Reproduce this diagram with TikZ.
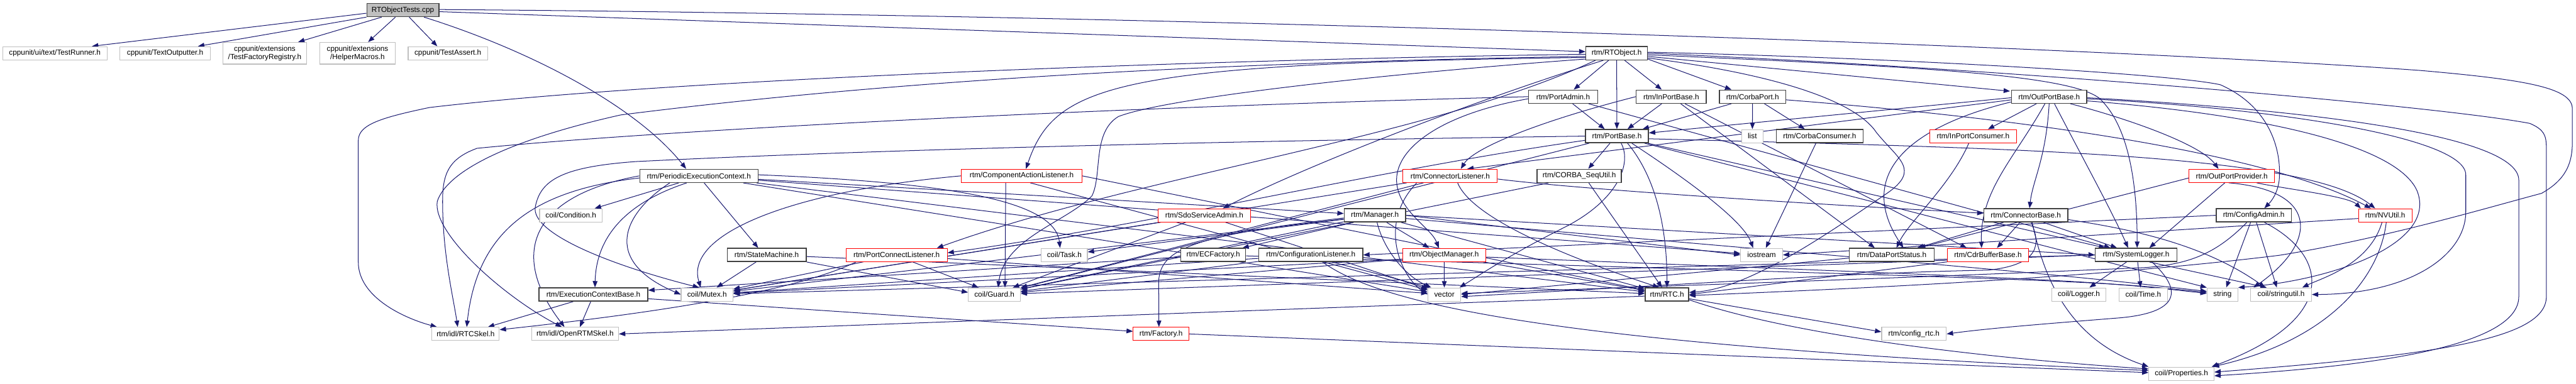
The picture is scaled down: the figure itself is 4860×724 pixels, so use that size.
\documentclass[tikz,border=0pt]{standalone}
\usepackage{fontspec}
\setmainfont{Liberation Sans}
\usepackage{tikz}
\usetikzlibrary{arrows.meta,backgrounds}
\definecolor{midnight}{HTML}{191970}
\definecolor{bk75}{HTML}{404040}
\definecolor{bk25}{HTML}{BFBFBF}
\tikzset{
  filebox/.style={
    rectangle, draw=#1, fill=white, line width=1.7pt,
    minimum height=25pt, inner sep=0pt,
    font=\fontsize{14}{15}\selectfont, align=center
  },
  filebox/.default=bk75,
  sysbox/.style={filebox=bk25, line width=1.3pt},
  cutbox/.style={filebox=red, line width=1.2pt},
  rootbox/.style={filebox=bk75, fill=bk25},
  incl/.style={
    -{Triangle[length=12pt, width=9pt]}, line width=1.2pt, color=midnight
  },
}
\begin{document}
\begin{tikzpicture}[x=1pt, y=-1pt]
  \useasboundingbox (0,0) rectangle (4860,724);

  % Root
  \node[rootbox, minimum width=136pt] (root) at (760,19) {RTObjectTests.cpp};

  % Row 1
  \node[sysbox, minimum width=197pt] (trun) at (103.5,100.5) {cppunit/ui/text/TestRunner.h};
  \node[sysbox, minimum width=171pt] (tout) at (311.5,100.5) {cppunit/TextOutputter.h};
  \node[sysbox, minimum width=157pt, minimum height=41pt] (tfac) at (499.5,100.5) {cppunit/extensions\\/TestFactoryRegistry.h};
  \node[sysbox, minimum width=143pt, minimum height=41pt] (tmac) at (674.5,100.5) {cppunit/extensions\\/HelperMacros.h};
  \node[sysbox, minimum width=150pt] (tass) at (845,100.5) {cppunit/TestAssert.h};
  \node[filebox, minimum width=116pt] (rtobj) at (3050,100.5) {rtm/RTObject.h};

  % Row 2
  \node[filebox, minimum width=130pt] (padm) at (2949,182.5) {rtm/PortAdmin.h};
  \node[filebox, minimum width=132pt] (inpb) at (3153,182.5) {rtm/InPortBase.h};
  \node[filebox, minimum width=125pt] (cport) at (3306.5,182.5) {rtm/CorbaPort.h};
  \node[filebox, minimum width=142pt] (outpb) at (3866,182.5) {rtm/OutPortBase.h};

  % Row 3
  \node[filebox, minimum width=119pt] (pbase) at (3050.5,257) {rtm/PortBase.h};
  \node[sysbox, minimum width=40pt] (list) at (3306,257) {list};
  \node[filebox, minimum width=164pt] (ccons) at (3433,257) {rtm/CorbaConsumer.h};
  \node[cutbox, minimum width=163pt] (incons) at (3722.5,257) {rtm/InPortConsumer.h};

  % Row 4
  \node[filebox, minimum width=223pt] (pec) at (1318.5,332) {rtm/PeriodicExecutionContext.h};
  \node[cutbox, minimum width=227pt] (cal) at (1927.5,332) {rtm/ComponentActionListener.h};
  \node[cutbox, minimum width=178pt] (clis) at (2736,332) {rtm/ConnectorListener.h};
  \node[filebox, minimum width=159pt] (cseq) at (2979.5,332) {rtm/CORBA\_SeqUtil.h};
  \node[cutbox, minimum width=161pt] (oprov) at (4210.5,332) {rtm/OutPortProvider.h};

  % Row 5
  \node[sysbox, minimum width=118pt] (cond) at (1077,406.5) {coil/Condition.h};
  \node[cutbox, minimum width=174pt] (sdo) at (2272,406.5) {rtm/SdoServiceAdmin.h};
  \node[filebox, minimum width=116pt] (mgr) at (2594,406.5) {rtm/Manager.h};
  \node[filebox, minimum width=158pt] (cbase) at (3822,406.5) {rtm/ConnectorBase.h};
  \node[filebox, minimum width=142pt] (cadm) at (4252,406.5) {rtm/ConfigAdmin.h};
  \node[cutbox, minimum width=101pt] (nvu) at (4500,406.5) {rtm/NVUtil.h};

  % Row 6
  \node[filebox, minimum width=149pt] (sm) at (1446.5,481.3) {rtm/StateMachine.h};
  \node[cutbox, minimum width=191pt] (pcl) at (1691.5,481.3) {rtm/PortConnectListener.h};
  \node[sysbox, minimum width=87pt] (task) at (2008,481.3) {coil/Task.h};
  \node[filebox, minimum width=122pt] (ecf) at (2289,481.3) {rtm/ECFactory.h};
  \node[filebox, minimum width=196pt] (cfl) at (2473,481.3) {rtm/ConfigurationListener.h};
  \node[cutbox, minimum width=157pt] (om) at (2724.5,481.3) {rtm/ObjectManager.h};
  \node[sysbox, minimum width=79pt] (ios) at (3323.5,481.3) {iostream};
  \node[filebox, minimum width=160pt] (dps) at (3569,481.3) {rtm/DataPortStatus.h};
  \node[cutbox, minimum width=153pt] (cdr) at (3750.5,481.3) {rtm/CdrBufferBase.h};
  \node[filebox, minimum width=154pt] (slog) at (4030,481.3) {rtm/SystemLogger.h};

  % Row 7
  \node[filebox, minimum width=205pt] (ecb) at (1119.5,556) {rtm/ExecutionContextBase.h};
  \node[sysbox, minimum width=98pt] (mutex) at (1334,556) {coil/Mutex.h};
  \node[sysbox, minimum width=98pt] (guard) at (1876,556) {coil/Guard.h};
  \node[sysbox, minimum width=62pt] (vec) at (2725,556) {vector};
  \node[filebox, minimum width=82pt] (rtc) at (3145,556) {rtm/RTC.h};
  \node[sysbox, minimum width=103pt] (logger) at (3922,556) {coil/Logger.h};
  \node[sysbox, minimum width=91pt] (time) at (4043.5,556) {coil/Time.h};
  \node[sysbox, minimum width=58pt] (str) at (4193,556) {string};
  \node[sysbox, minimum width=115pt] (sutil) at (4303.5,556) {coil/stringutil.h};

  % Row 8
  \node[sysbox, minimum width=127pt] (rtcskel) at (878.5,630.5) {rtm/idl/RTCSkel.h};
  \node[sysbox, minimum width=164pt] (ortmskel) at (1085,630.5) {rtm/idl/OpenRTMSkel.h};
  \node[cutbox, minimum width=105pt] (fact) at (2190.5,630.5) {rtm/Factory.h};
  \node[sysbox, minimum width=122pt] (cfgrtc) at (3611,630.5) {rtm/config\_rtc.h};

  % Row 9
  \node[sysbox, minimum width=123pt] (props) at (4115.5,705.5) {coil/Properties.h};

  \begin{scope}[on background layer]
    % RTObjectTests.cpp
    \draw[incl] ([yshift=-6pt]root.west) -- ([xshift=70pt]trun.north);
    \draw[incl] (root.south west) -- ([xshift=62pt]tout.north);
    \draw[incl] ([xshift=-40pt]root.south) -- ([xshift=63pt]tfac.north);
    \draw[incl] ([xshift=-14pt]root.south) -- ([xshift=20pt]tmac.north);
    \draw[incl] ([xshift=12pt]root.south) -- ([xshift=-20pt]tass.north);
    \draw[incl] ([xshift=40pt]root.south) .. controls (1000,95) and (1200,200) .. ([xshift=-24pt]pec.north);
    \draw[incl] ([yshift=-3pt]root.east) -- ([yshift=3pt]rtobj.west);
    \draw[incl] ([yshift=1pt]root.east) .. controls (2200,28) and (3900,85) .. (4566,133)
      .. controls (4760,150) and (4853,165) .. (4853,205) -- (4853,270)
      .. controls (4853,320) and (4830,345) .. (4795,365)
      .. controls (4700,390) and (4500,450) .. (4300,482)
      .. controls (3950,525) and (3500,545) .. ([yshift=-2pt]rtc.east);

    % RTObject.h
    \draw[incl] ([xshift=-15pt]rtobj.south) -- ([xshift=20pt]padm.north);
    \draw[incl] (rtobj) -- (pbase);
    \draw[incl] ([xshift=15pt]rtobj.south) -- ([xshift=-18pt]inpb.north);
    \draw[incl] ([yshift=-11pt]rtobj.east) -- ([xshift=-40pt]cport.north);
    \draw[incl] ([yshift=-6pt]rtobj.east) -- ([xshift=-2pt,yshift=-3pt]outpb.north west);
    \draw[incl] ([yshift=-2pt]rtobj.west) .. controls (2400,110) and (1300,145) .. (810,203)
      .. controls (720,222) and (676,235) .. (676,265) -- (676,495)
      .. controls (676,560) and (760,600) .. ([xshift=10pt]rtcskel.north west);
    \draw[incl] ([yshift=-6pt]rtobj.west) .. controls (2300,118) and (1700,150) .. (1171,217)
      .. controls (970,262) and (845,320) .. (825,380)
      .. controls (815,440) and (950,560) .. ([xshift=-25pt]ortmskel.north);
    \draw[incl] ([yshift=-8pt]rtobj.west) .. controls (2100,120) and (1990,160) .. ([xshift=8pt]cal.north);
    \draw[incl] ([yshift=-11pt]rtobj.west) .. controls (2600,140) and (2200,185) .. (2110,220)
      .. controls (2060,250) and (2080,330) .. (2060,370)
      .. controls (2010,420) and (1895,450) .. ([xshift=7pt]guard.north);
    \draw[incl] ([xshift=-25pt]rtobj.south) .. controls (2750,200) and (2450,320) .. ([xshift=35pt]sdo.north);
    \draw[incl] ([xshift=-40pt]rtobj.south) .. controls (2700,260) and (2150,330) .. ([xshift=-20pt]pcl.north east);
    \draw[incl] ([yshift=2pt]rtobj.east) .. controls (3600,110) and (4100,140) .. (4189,160)
      .. controls (4280,200) and (4305,280) .. (4300,340)
      .. controls (4297,365) and (4285,380) .. ([xshift=20pt]cadm.north);
    \draw[incl] (rtobj.east) .. controls (3800,130) and (4600,200) .. (4773,233)
      .. controls (4800,245) and (4804,255) .. (4804,280) -- (4804,560)
      .. controls (4804,640) and (4600,670) .. ([yshift=3pt]props.east);
    \draw[incl] ([yshift=-3pt]rtobj.east) .. controls (3600,125) and (3900,140) .. (3960,185)
      .. controls (4020,240) and (4032,360) .. ([xshift=2pt]slog.north);
    \draw[incl] ([yshift=-9pt]rtobj.east) .. controls (3350,140) and (3500,190) .. (3540,250)
      .. controls (3580,300) and (3625,320) .. (3560,365)
      .. controls (3450,440) and (3300,545) .. ([yshift=4pt]rtc.east);

    % PortAdmin.h
    \draw[incl] ([xshift=18pt]padm.south) -- ([xshift=-23pt]pbase.north);
    \draw[incl] ([yshift=-4pt]padm.west) .. controls (2720,215) and (2630,280) .. (2635,345)
      .. controls (2640,400) and (2700,430) .. ([xshift=-10pt]om.north);
    \draw[incl] (padm.west) .. controls (2000,205) and (1200,250) .. (900,280)
      .. controls (845,300) and (835,330) .. (835,380)
      .. controls (835,480) and (855,560) .. ([xshift=-15pt]rtcskel.north);
    \draw[incl] (padm) -- (slog);

    % InPortBase.h
    \draw[incl] ([xshift=-18pt]inpb.south) -- ([xshift=20pt]pbase.north);
    \draw[incl] (inpb.west) .. controls (2900,230) and (2780,280) .. ([xshift=20pt]clis.north);
    \draw[incl] (inpb) -- ([xshift=-32pt]dps.north);
    \draw[incl] (inpb) -- ([xshift=-40pt]cdr.north);

    % CorbaPort.h
    \draw[incl] ([xshift=-40pt]cport.south) -- ([xshift=-12pt]pbase.north east);
    \draw[incl] (cport) -- (list);
    \draw[incl] ([xshift=-41pt]cport.south east) -- ([xshift=-28pt]ccons.north);
    \draw[incl] ([yshift=-6pt]cport.east) .. controls (3900,230) and (4300,300) .. ([xshift=-27pt]nvu.north);
    \draw[incl] ([xshift=-7pt]ccons.south) -- ([xshift=8pt]ios.north);

    % OutPortBase.h
    \draw[incl] ([yshift=-2pt]outpb.west) -- ([yshift=6pt]pbase.east);
    \draw[incl] ([yshift=-6pt]outpb.west) -- ([xshift=32pt]clis.north);
    \draw[incl] ([xshift=-24pt]outpb.south) -- ([xshift=28pt]incons.north);
    \draw[incl] ([xshift=40pt]outpb.south) .. controls (4000,220) and (4150,270) .. ([xshift=-25pt]oprov.north);
    \draw[incl] (outpb.south) .. controls (3860,300) and (3835,340) .. ([xshift=7pt]cbase.north);
    \draw[incl] ([yshift=-10pt]outpb.west) .. controls (3600,240) and (3500,330) .. ([xshift=22pt]dps.north);
    \draw[incl] ([xshift=-8pt]outpb.south) .. controls (3800,300) and (3735,360) .. ([xshift=-12pt]cdr.north);
    \draw[incl] ([xshift=10pt]outpb.south) .. controls (3930,300) and (3985,400) .. ([xshift=-15pt]slog.north);
    \draw[incl] ([yshift=-4pt]outpb.east) .. controls (4300,205) and (4652,260) .. (4652,330) -- (4652,400)
      .. controls (4652,480) and (4550,555) .. (sutil.east);
    \draw[incl] ([yshift=-2pt]outpb.east) .. controls (4400,210) and (4752,260) .. (4752,340) -- (4752,560)
      .. controls (4752,650) and (4500,690) .. ([yshift=-4pt]props.east);
    \draw[incl] ([yshift=-8pt]outpb.east) .. controls (4250,215) and (4520,270) .. (4560,360)
      .. controls (4600,460) and (4400,530) .. (str.north east);
    \draw[incl] ([xshift=-8pt]incons.south) .. controls (3680,350) and (3600,420) .. ([xshift=9pt]dps.north);

    % PortBase.h
    \draw[incl] ([xshift=-13pt]pbase.south) -- ([xshift=17pt]cseq.north);
    \draw[incl] ([yshift=-8pt]pbase.west) .. controls (2600,320) and (2200,420) .. ([yshift=4pt]pcl.east);
    \draw[incl] (pbase.west) .. controls (2400,265) and (1700,280) .. (1200,305)
      .. controls (1060,315) and (1020,340) .. (1010,390)
      .. controls (1000,440) and (1150,500) .. ([xshift=-15pt]mutex.north);
    \draw[incl] ([xshift=8pt]pbase.south) .. controls (3080,310) and (3050,380) .. (2950,430)
      .. controls (2850,480) and (2790,520) .. ([xshift=-3pt]vec.north east);
    \draw[incl] ([xshift=20pt]pbase.south) .. controls (3120,330) and (3145,420) .. (rtc.north);
    \draw[incl] ([xshift=28pt]pbase.south) .. controls (3200,350) and (3290,420) .. ([xshift=-16pt]ios.north);
    \draw[incl] ([yshift=-5pt]pbase.east) .. controls (3800,280) and (4350,290) .. ([xshift=-19pt]nvu.north);
    \draw[incl] (pbase) -- (str.north west);
    \draw[incl] (pbase) -- (slog);
    \draw[incl] (pbase) -- (guard);

    % PeriodicExecutionContext.h
    \draw[incl] ([xshift=-38pt]pec.south) -- ([xshift=45pt]cond.north);
    \draw[incl] ([xshift=-23pt]pec.south) .. controls (1190,380) and (1125,440) .. ([xshift=3pt]ecb.north);
    \draw[incl] ([xshift=10pt]pec.south) -- ([xshift=-16pt]sm.north);
    \draw[incl] ([xshift=-55pt]pec.south) .. controls (1180,400) and (1130,490) .. (mutex.west);
    \draw[incl] ([yshift=-4pt]pec.west) .. controls (1000,360) and (900,440) .. ([xshift=2pt]rtcskel.north);
    \draw[incl] (pec.west) .. controls (1000,370) and (960,480) .. ([xshift=-20pt]ortmskel.north);
    \draw[incl] ([yshift=2pt]pec.east) .. controls (1800,345) and (1990,380) .. ([xshift=-8pt]task.north);
    \foreach \t in {mgr,vec,ios,rtc}
      \draw[incl] (pec) -- (\t);

    % ComponentActionListener.h
    \draw[incl] (cal.west) .. controls (1500,360) and (1290,440) .. ([xshift=-12pt]mutex.north);
    \draw[incl] ([xshift=-30pt]cal.south) -- ([xshift=20pt]guard.north);
    \draw[incl] ([xshift=16pt]cal.south) -- (vec);
    \draw[incl] (cal.east) -- (rtc);

    % ConnectorListener.h and CORBA_SeqUtil.h
    \draw[incl] ([yshift=-6pt]clis.east) .. controls (3000,360) and (3500,390) .. ([yshift=4pt]cbase.west);
    \foreach \t in {mutex,guard}
      \draw[incl] (clis) -- (\t);
    \draw[incl] ([xshift=-63pt]clis.south) .. controls (2600,420) and (2640,520) .. (vec.west);
    \draw[incl] ([xshift=14pt]clis.south) .. controls (2780,420) and (3000,500) .. ([xshift=-15pt]rtc.north);
    \draw[incl] ([xshift=-58pt]cseq.south) -- (guard);
    \draw[incl] ([xshift=18pt]cseq.south) -- (rtc);

    % OutPortProvider.h
    \draw[incl] ([yshift=-4pt]oprov.west) -- (dps);
    \draw[incl] ([xshift=-13pt]oprov.south) -- ([xshift=25pt]slog.north);
    \draw[incl] ([xshift=47pt]oprov.south) .. controls (4300,355) and (4430,370) .. ([xshift=-46pt]nvu.north);
    \draw[incl] ([xshift=-6pt]oprov.south) .. controls (4380,360) and (4370,460) .. ([xshift=-52pt]sutil.north);

    % Manager.h
    \draw[incl] ([xshift=22pt]mgr.south) -- ([xshift=-28pt]om.north);
    \draw[incl] ([xshift=4pt]mgr.south) .. controls (2610,470) and (2650,520) .. ([xshift=-25pt]vec.north);
    \draw[incl] ([yshift=-5pt]mgr.west) .. controls (2250,445) and (2190,470) .. (2186,530) -- ([xshift=-4pt]fact.north);
    \draw[incl] ([xshift=-40pt]mgr.south) -- ([xshift=55pt]ecf.north);
    \foreach \t in {mutex,guard,task,rtc}
      \draw[incl] (mgr) -- (\t);
    \draw[incl] (mgr.east) -- (ios.west);
    \draw[incl] (mgr.east) -- (slog.west);
    \draw[incl] ([yshift=-6pt]mgr.east) .. controls (3900,520) .. ([yshift=6pt]str.west);

    % SdoServiceAdmin.h, StateMachine.h, PortConnectListener.h
    \foreach \t in {mutex,guard,vec}
      \draw[incl] (sdo) -- (\t);
    \draw[incl] ([xshift=-20pt]sm.south) -- ([xshift=18pt]mutex.north);
    \draw[incl] (sm.south east) -- ([yshift=4pt]guard.west);
    \draw[incl] ([yshift=-3pt]sm.east) -- (rtc);
    \draw[incl] ([xshift=20pt]pcl.south west) .. controls (1480,560) and (1150,600) .. ([yshift=8pt]rtcskel.east);
    \draw[incl] (pcl) -- (mutex);
    \draw[incl] ([xshift=30pt]pcl.south) -- ([xshift=-30pt]guard.north);
    \draw[incl] (pcl) -- (vec);

    % ECFactory.h, ObjectManager.h, ConfigurationListener.h
    \draw[incl] ([yshift=-4pt]ecf.west) -- ([yshift=8pt]ecb.east);
    \draw[incl] (ecf) .. controls (3950,530) .. ([yshift=4pt]str.west);
    \draw[incl] (om) -- (vec);
    \foreach \t in {mutex,guard}
      \draw[incl] ([yshift=-8pt]om.west) -- (\t);
    \draw[incl] ([yshift=-4pt]om.east) .. controls (3950,530) .. ([yshift=2pt]str.west);
    \draw[incl] (om) -- (rtc);
    \draw[incl] ([xshift=22pt]cfl.south) .. controls (2600,570) and (2900,650) .. ([yshift=6pt]props.west);
    \draw[incl] ([xshift=40pt]cfl.south) -- ([xshift=-28pt]vec.north);
    \foreach \t in {mutex,guard}
      \draw[incl] (cfl) -- (\t);

    % ExecutionContextBase.h, Factory.h, RTC.h
    \draw[incl] ([xshift=-38pt]ecb.south) -- ([xshift=42pt]rtcskel.north);
    \draw[incl] ([xshift=-5pt]ecb.south) -- ([xshift=9pt]ortmskel.north);
    \draw[incl] ([yshift=-8pt]ecb.east) -- ([yshift=5pt]fact.west);
    \draw[incl] (fact.east) -- ([yshift=2pt]props.west);
    \draw[incl] ([yshift=-3pt]rtc.west) -- (ortmskel.east);
    \draw[incl] ([yshift=-8pt]rtc.east) -- ([yshift=4pt]cfgrtc.west);
    \draw[incl] ([yshift=-10pt]rtc.east) .. controls (3400,640) and (3800,680) .. ([yshift=9pt]props.west);

    % ConnectorBase.h, DataPortStatus.h, CdrBufferBase.h
    \draw[incl] ([xshift=-42pt]cbase.south) -- ([xshift=48pt]dps.north);
    \draw[incl] ([xshift=-11pt]cbase.south) -- ([xshift=17pt]cdr.north);
    \draw[incl] ([xshift=33pt]cbase.south) -- ([xshift=-36pt]slog.north);
    \draw[incl] ([xshift=12pt]cbase.south) .. controls (3855,520) and (3900,640) .. (props.north west);
    \draw[incl] ([xshift=10pt]cbase.south) .. controls (3850,460) and (3850,500) .. (3750,510)
      .. controls (3500,515) and (3300,530) .. ([yshift=-4pt]vec.east);
    \draw[incl] ([yshift=-8pt]cbase.east) .. controls (4000,430) and (4150,455) .. ([xshift=-30pt]sutil.north);
    \draw[incl] ([yshift=-6pt]dps.west) -- (vec.east);
    \draw[incl] (cdr.south west) -- (rtc.east);

    % SystemLogger.h
    \draw[incl] ([xshift=-18pt]slog.south) -- ([xshift=20pt]logger.north);
    \draw[incl] ([xshift=3pt]slog.south) -- ([xshift=-5pt]time.north);
    \draw[incl] ([xshift=25pt]slog.south) -- ([xshift=-27pt]sutil.north);
    \draw[incl] ([xshift=30pt]slog.south) .. controls (4120,550) and (4110,590) .. (4000,600)
      .. controls (3850,612) and (3750,620) .. (cfgrtc.east);
    \foreach \t in {mutex,guard}
      \draw[incl] (slog.west) -- (\t);

    % ConfigAdmin.h, NVUtil.h
    \draw[incl] (cadm.west) -- (cfl.east);
    \draw[incl] ([xshift=-13pt]cadm.south) .. controls (4180,480) and (4130,498) .. (4050,505)
      .. controls (3600,525) and (3000,545) .. ([yshift=2pt]vec.east);
    \draw[incl] ([xshift=-6pt]cadm.south) -- ([xshift=7pt]str.north);
    \draw[incl] ([xshift=5pt]cadm.south) -- ([xshift=-8pt]sutil.north);
    \draw[incl] ([xshift=20pt]cadm.south) .. controls (4390,480) and (4420,600) .. ([xshift=-5pt]props.north east);
    \draw[incl] ([yshift=-6pt]nvu.west) -- (ios.east);
    \draw[incl] ([xshift=-6pt]nvu.south) .. controls (4470,500) and (4380,525) .. ([xshift=40pt]sutil.north);
    \draw[incl] ([xshift=2pt]nvu.south) .. controls (4490,520) and (4400,640) .. ([xshift=-3pt]props.north east);
  \end{scope}
\end{tikzpicture}
\end{document}
